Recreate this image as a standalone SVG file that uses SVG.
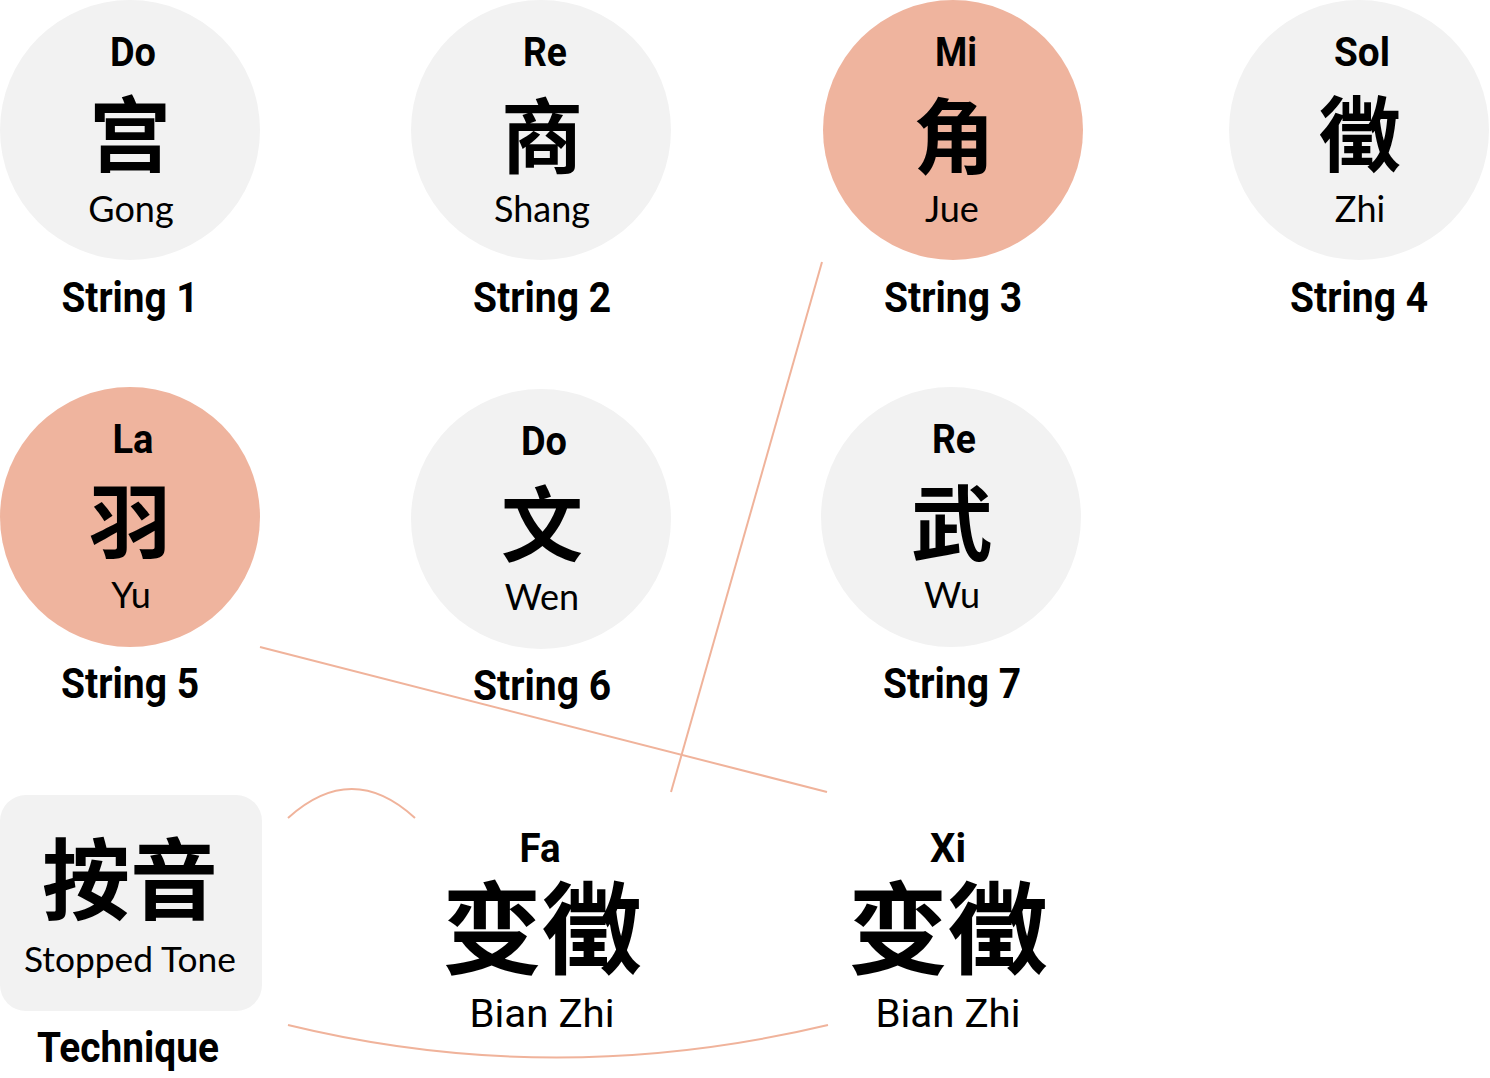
<svg xmlns="http://www.w3.org/2000/svg" width="1490" height="1078" viewBox="0 0 1490 1078">
<style>
.bg{fill:#f2f2f2}
.hl{fill:#efb49e}
.note{font-family:"Roboto","Liberation Sans",sans-serif;font-weight:bold;font-size:40px;fill:#000;text-anchor:middle}
.cjk{font-family:"Noto Sans CJK SC","Noto Sans CJK TC",serif;font-weight:bold;font-size:82px;fill:#000;text-anchor:middle}
.py{font-family:"Lato","Open Sans","Liberation Sans",sans-serif;font-size:36px;fill:#000;text-anchor:middle}
.lbl{font-family:"Roboto","Liberation Sans",sans-serif;font-weight:bold;font-size:42px;fill:#000;text-anchor:middle}
.con{fill:none;stroke:#f0b39b;stroke-width:2}
</style>
<g id="connectors">
<line class="con" x1="822" y1="262" x2="671" y2="792"/>
<line class="con" x1="260" y1="647" x2="827" y2="792"/>
<path class="con" d="M288,818 Q352,760 415,818"/>
<path class="con" d="M288,1025 Q555,1090 828,1025"/>
</g>
<g id="string1">
<circle class="bg" cx="130" cy="130" r="130"/>
<text class="note" x="133" y="66" textLength="46" lengthAdjust="spacingAndGlyphs">Do</text>
<text class="cjk" x="130" y="165">宫</text>
<text class="py" x="131" y="222">Gong</text>
<text class="lbl" x="130" y="312" textLength="137" lengthAdjust="spacingAndGlyphs">String 1</text>
</g>
<g id="string2">
<circle class="bg" cx="541" cy="130" r="130"/>
<text class="note" x="545" y="66" textLength="44" lengthAdjust="spacingAndGlyphs">Re</text>
<text class="cjk" x="542" y="167">商</text>
<text class="py" x="542" y="222">Shang</text>
<text class="lbl" x="542" y="312" textLength="138" lengthAdjust="spacingAndGlyphs">String 2</text>
</g>
<g id="string3">
<circle class="hl" cx="953" cy="130" r="130"/>
<text class="note" x="956" y="66" textLength="42" lengthAdjust="spacingAndGlyphs">Mi</text>
<text class="cjk" x="954" y="167">角</text>
<text class="py" x="952" y="222">Jue</text>
<text class="lbl" x="953" y="312" textLength="138" lengthAdjust="spacingAndGlyphs">String 3</text>
</g>
<g id="string4">
<circle class="bg" cx="1359" cy="130" r="130"/>
<text class="note" x="1362" y="66" textLength="56" lengthAdjust="spacingAndGlyphs">Sol</text>
<text class="cjk" x="1360" y="165">徵</text>
<text class="py" x="1360" y="222">Zhi</text>
<text class="lbl" x="1359" y="312" textLength="138" lengthAdjust="spacingAndGlyphs">String 4</text>
</g>
<g id="string5">
<circle class="hl" cx="130" cy="517" r="130"/>
<text class="note" x="133" y="453" textLength="41" lengthAdjust="spacingAndGlyphs">La</text>
<text class="cjk" x="130" y="552">羽</text>
<text class="py" x="131" y="608">Yu</text>
<text class="lbl" x="130" y="698" textLength="138" lengthAdjust="spacingAndGlyphs">String 5</text>
</g>
<g id="string6">
<circle class="bg" cx="541" cy="519" r="130"/>
<text class="note" x="544" y="455" textLength="46" lengthAdjust="spacingAndGlyphs">Do</text>
<text class="cjk" x="542" y="555">文</text>
<text class="py" x="542" y="610">Wen</text>
<text class="lbl" x="542" y="700" textLength="138" lengthAdjust="spacingAndGlyphs">String 6</text>
</g>
<g id="string7">
<circle class="bg" cx="951" cy="517" r="130"/>
<text class="note" x="954" y="453" textLength="44" lengthAdjust="spacingAndGlyphs">Re</text>
<text class="cjk" x="952" y="554">武</text>
<text class="py" x="952" y="608">Wu</text>
<text class="lbl" x="952" y="698" textLength="138" lengthAdjust="spacingAndGlyphs">String 7</text>
</g>
<g id="technique">
<rect class="bg" x="0" y="795" width="262" height="216" rx="26"/>
<text class="cjk" x="130" y="912" style="font-size:88px">按音</text>
<text class="py" x="130" y="972" style="font-size:34px" textLength="212" lengthAdjust="spacingAndGlyphs">Stopped Tone</text>
<text class="lbl" x="128" y="1062" textLength="182" lengthAdjust="spacingAndGlyphs">Technique</text>
</g>
<g id="fa">
<text class="note" x="540" y="862" textLength="41" lengthAdjust="spacingAndGlyphs">Fa</text>
<text class="cjk" x="542" y="966" style="font-size:100px">变徵</text>
<text class="py" x="542" y="1027" style="font-family:Roboto,'Liberation Sans',sans-serif;font-size:38px" textLength="145" lengthAdjust="spacingAndGlyphs">Bian Zhi</text>
</g>
<g id="xi">
<text class="note" x="948" y="862" textLength="36" lengthAdjust="spacingAndGlyphs">Xi</text>
<text class="cjk" x="948" y="966" style="font-size:100px">变徵</text>
<text class="py" x="948" y="1027" style="font-family:Roboto,'Liberation Sans',sans-serif;font-size:38px" textLength="145" lengthAdjust="spacingAndGlyphs">Bian Zhi</text>
</g>
</svg>
